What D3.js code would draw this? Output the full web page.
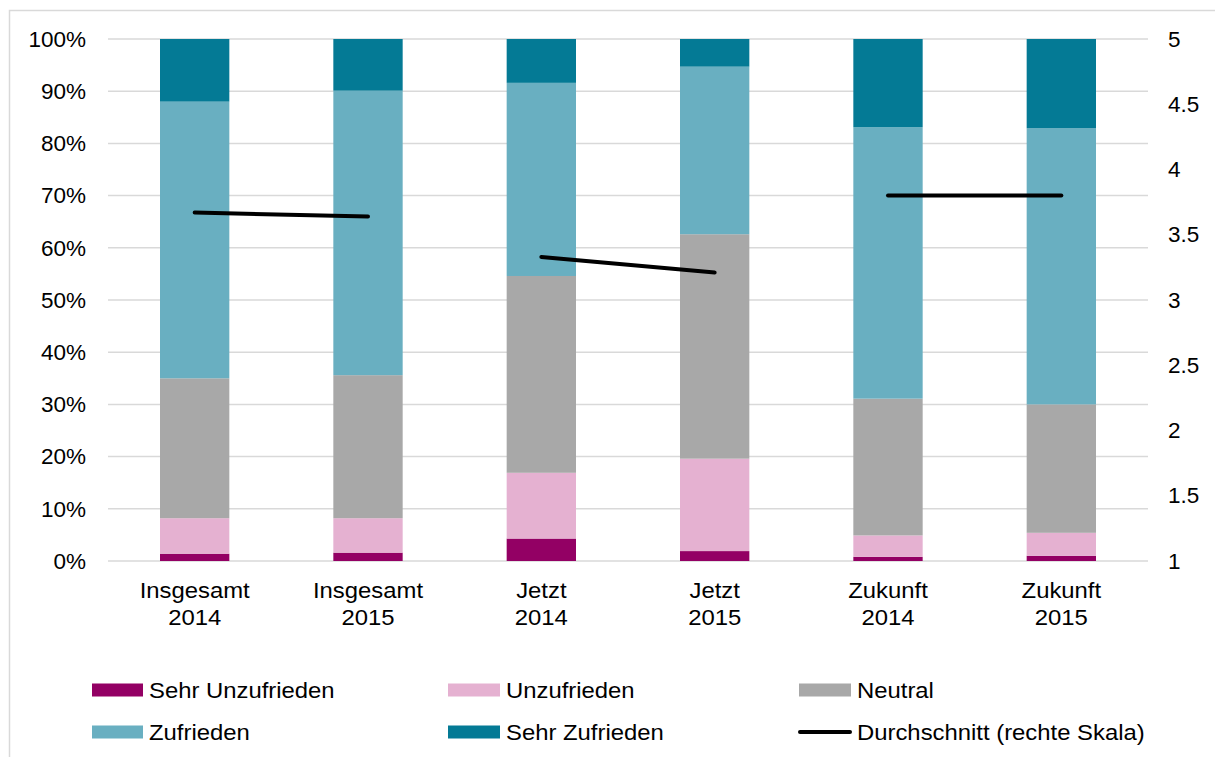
<!DOCTYPE html>
<html>
<head>
<meta charset="utf-8">
<script src="https://cdn.jsdelivr.net/npm/d3@7"></script>
<style>
  html, body { margin: 0; padding: 0; background: #fff; }
  svg text { font-family: "Liberation Sans", Arial, sans-serif; fill: #000; }
</style>
</head>
<body>
<svg id="chart" width="1215" height="757"></svg>
<script>
// Kategorien (zweizeilige Beschriftung)
const categories = [
  ["Insgesamt", "2014"], ["Insgesamt", "2015"],
  ["Jetzt", "2014"], ["Jetzt", "2015"],
  ["Zukunft", "2014"], ["Zukunft", "2015"]
];
const groups = ["Insgesamt", "Insgesamt", "Jetzt", "Jetzt", "Zukunft", "Zukunft"];

// Anteile in Prozent je Antwortkategorie
const sehrUnzufrieden = [1.4, 1.6, 4.3, 1.9, 0.8, 1.0];
const unzufrieden     = [6.8, 6.6, 12.6, 17.7, 4.1, 4.4];
const neutral         = [26.8, 27.4, 37.7, 43.0, 26.2, 24.6];
const zufrieden       = [53.0, 54.5, 37.0, 32.1, 52.0, 52.9];
const sehrZufrieden   = [12.0, 9.9, 8.4, 5.3, 16.9, 17.1];

// Durchschnittsnote (rechte Skala 1–5)
const durchschnitt = [3.67, 3.64, 3.33, 3.21, 3.80, 3.80];

const seriesNames = ["Sehr Unzufrieden", "Unzufrieden", "Neutral", "Zufrieden", "Sehr Zufrieden"];
const lineName = "Durchschnitt (rechte Skala)";
const leftTicks = [0, 10, 20, 30, 40, 50, 60, 70, 80, 90, 100];
const rightTicks = [1, 1.5, 2, 2.5, 3, 3.5, 4, 4.5, 5];

const colors = ["#930064", "#E5B1D1", "#A8A8A8", "#69AFC1", "#047A95"];

const svg = d3.select("#chart");
const margin = { left: 108, right: 1148, top: 39, bottom: 561 };
const FONT = '"Liberation Sans", Arial, sans-serif';
const labelStretch = 1.11;

// Rahmen um das Diagramm
svg.append("rect")
  .attr("x", 9.5).attr("y", 10.5)
  .attr("width", 1230).attr("height", 770)
  .attr("fill", "none").attr("stroke", "#D9D9D9").attr("stroke-width", 1.5);

const x = d3.scaleBand()
  .domain(d3.range(categories.length))
  .range([margin.left, margin.right])
  .paddingInner(0.6).paddingOuter(0.3);

const y = d3.scaleLinear().domain([0, 100]).range([margin.bottom, margin.top]);
const y2 = d3.scaleLinear().domain([1, 5]).range([margin.bottom, margin.top]);

// Gitterlinien
svg.append("g").selectAll("line").data(leftTicks).join("line")
  .attr("x1", margin.left).attr("x2", margin.right)
  .attr("y1", d => y(d)).attr("y2", d => y(d))
  .attr("stroke", "#D9D9D9").attr("stroke-width", 1.5);

// Linke Achse
const leftAxis = svg.append("g")
  .attr("transform", `translate(${margin.left - 22},0)`)
  .call(d3.axisLeft(y).tickValues(leftTicks).tickFormat(d => d + "%").tickSize(0).tickPadding(0));
leftAxis.select(".domain").remove();
leftAxis.selectAll("text").attr("font-size", 22.5).style("font-family", FONT).attr("fill", "#000");

// Rechte Achse
const rightAxis = svg.append("g")
  .attr("transform", `translate(${margin.right + 20},0)`)
  .call(d3.axisRight(y2).tickValues(rightTicks).tickFormat(d => String(d)).tickSize(0).tickPadding(0));
rightAxis.select(".domain").remove();
rightAxis.selectAll("text").attr("font-size", 22.5).style("font-family", FONT).attr("fill", "#000");

// Gestapelte Balken
const rows = categories.map((c, i) => ({
  i,
  "Sehr Unzufrieden": sehrUnzufrieden[i],
  "Unzufrieden": unzufrieden[i],
  "Neutral": neutral[i],
  "Zufrieden": zufrieden[i],
  "Sehr Zufrieden": sehrZufrieden[i]
}));
const stacked = d3.stack().keys(seriesNames)(rows);

svg.append("g").selectAll("g").data(stacked).join("g")
  .attr("fill", (d, k) => colors[k])
  .selectAll("rect").data(d => d).join("rect")
  .attr("x", d => x(d.data.i))
  .attr("width", x.bandwidth())
  .attr("y", d => y(Math.min(d[1], 100)))
  .attr("height", d => y(d[0]) - y(Math.min(d[1], 100)));

// Durchschnittslinien je Gruppe
const line = d3.line()
  .x(d => x(d.i) + x.bandwidth() / 2)
  .y(d => y2(d.v));
const points = durchschnitt.map((v, i) => ({ i, v, g: groups[i] }));
const byGroup = d3.groups(points, d => d.g);
svg.append("g").selectAll("path").data(byGroup).join("path")
  .attr("d", d => line(d[1]))
  .attr("fill", "none").attr("stroke", "#000")
  .attr("stroke-width", 4).attr("stroke-linecap", "round");

// X-Beschriftung (zwei Zeilen)
const xl = svg.append("g").selectAll("g").data(categories).join("g")
  .attr("transform", (d, i) => `translate(${x(i) + x.bandwidth() / 2},0) scale(${labelStretch},1)`);
xl.append("text").attr("text-anchor", "middle").attr("font-size", 21.5)
  .attr("y", 598).text(d => d[0]);
xl.append("text").attr("text-anchor", "middle").attr("font-size", 21.5)
  .attr("y", 625).text(d => d[1]);

// Legende
const legendItems = [
  { name: seriesNames[0], color: colors[0], type: "rect", x: 92, w: 51, row: 0 },
  { name: seriesNames[1], color: colors[1], type: "rect", x: 448, w: 52, row: 0 },
  { name: seriesNames[2], color: colors[2], type: "rect", x: 799, w: 52, row: 0 },
  { name: seriesNames[3], color: colors[3], type: "rect", x: 92, w: 51, row: 1 },
  { name: seriesNames[4], color: colors[4], type: "rect", x: 448, w: 52, row: 1 },
  { name: lineName, color: "#000", type: "line", x: 799, w: 52, row: 1 }
];
const rowY = [690, 732];
const lg = svg.append("g").selectAll("g").data(legendItems).join("g");
lg.filter(d => d.type === "rect").append("rect")
  .attr("x", d => d.x).attr("y", d => rowY[d.row] - 6.5)
  .attr("width", d => d.w).attr("height", 13)
  .attr("fill", d => d.color);
lg.filter(d => d.type === "line").append("line")
  .attr("x1", d => d.x + 1).attr("x2", d => d.x + d.w - 1)
  .attr("y1", d => rowY[d.row]).attr("y2", d => rowY[d.row])
  .attr("stroke", "#000").attr("stroke-width", 4).attr("stroke-linecap", "round");
lg.append("text")
  .attr("transform", d => `translate(${d.x + d.w + 6},${rowY[d.row] + 7.5}) scale(${labelStretch},1)`)
  .attr("font-size", 21.5)
  .text(d => d.name);
</script>
</body>
</html>
